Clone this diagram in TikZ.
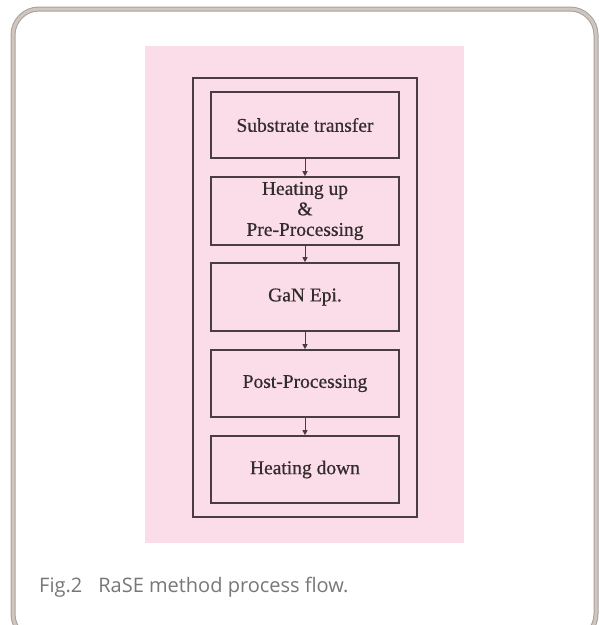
\documentclass[tikz,border=0pt]{standalone}
\usepackage{fontspec}
\setmainfont{Liberation Serif}
\newfontfamily\capfont{Open Sans}
\usetikzlibrary{arrows.meta}
\definecolor{framegray}{HTML}{CFC6C0}
\definecolor{framedark}{HTML}{A9A09B}
\definecolor{pinkbg}{HTML}{FBDDE9}
\definecolor{boxline}{HTML}{4A3D3F}
\definecolor{captext}{HTML}{777777}
\tikzset{
  x=1pt,y=-1pt,
  stepbox/.style={draw=boxline,line width=1.6pt,minimum width=188pt,inner sep=0pt,
    font=\addfontfeature{FakeBold=0.6}\fontsize{19.5}{20.5}\selectfont,text=boxline!70!black,align=center},
  flow/.style={draw=boxline,line width=0.8pt,-{Triangle[length=5pt,width=5pt]}}
}
\begin{document}
\begin{tikzpicture}
\useasboundingbox (0,0) rectangle (599,625);
\fill[white] (0,0) rectangle (599,625);
\draw[framedark,line width=5pt,rounded corners=26pt] (13,9) rectangle (596,640);
\draw[framegray,line width=3pt,rounded corners=26pt] (13,9) rectangle (596,640);
\fill[pinkbg] (145,46) rectangle (464,543);
\node[draw=boxline,line width=1.6pt,minimum width=224pt,minimum height=439pt,inner sep=0pt] (outer) at (305,297.5) {};
\node[stepbox,minimum height=66pt] (s1) at (305,125) {Substrate transfer};
\node[stepbox,minimum height=68pt] (s2) at (305,211) {Heating up\\\&\\Pre-Processing};
\node[stepbox,minimum height=68pt] (s3) at (305,297) {GaN Epi.};
\node[stepbox,minimum height=67pt] (s4) at (305,383.5) {Post-Processing};
\node[stepbox,minimum height=67pt] (s5) at (305,469.5) {Heating down};
\draw[flow] (s1) -- (s2);
\draw[flow] (s2) -- (s3);
\draw[flow] (s3) -- (s4);
\draw[flow] (s4) -- (s5);
\node[anchor=base west,inner sep=0pt,font=\capfont\fontsize{20}{24}\selectfont,text=captext] (cap) at (39,592) {Fig.2\hspace{16pt}RaSE method process flow.};
\end{tikzpicture}
\end{document}
